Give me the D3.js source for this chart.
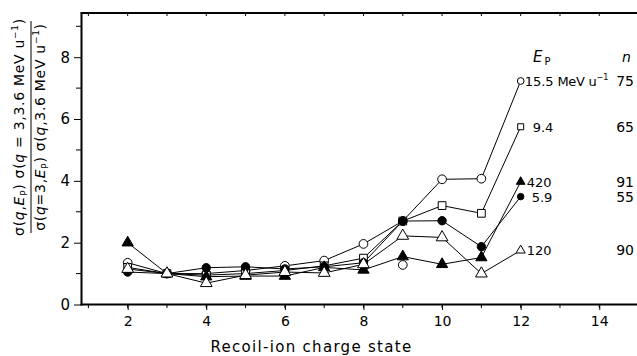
<!DOCTYPE html>
<html lang="en">
<head>
	<meta charset="UTF-8">
	<title>Recoil-ion charge state</title>
	<style>
		body { margin: 0; background: #fff; }
		svg text { font-family: "DejaVu Sans", sans-serif; fill: #000; }
	</style>
</head>
<body>
	<script src="https://cdn.jsdelivr.net/npm/d3@7/dist/d3.min.js"></script>

	<script type="text/javascript">

		// 数据: 反冲离子电荷态 q
		var charge = [2, 3, 4, 5, 6, 7, 8, 9, 10, 11, 12];

		var e155 = [1.35, 1.0, 1.0, 1.1, 1.25, 1.42, 1.96, 2.7, 4.05, 4.07, 7.23];	// 15.5 MeV/u
		var e94 = [1.2, 1.0, 0.95, 1.0, 1.1, 1.25, 1.5, 2.7, 3.2, 2.95, 5.75];		// 9.4
		var e420 = [2.0, 1.0, 0.9, 0.92, 0.92, 1.2, 1.12, 1.55, 1.3, 1.52, 3.97];	// 420
		var e59 = [1.05, 1.0, 1.19, 1.22, 1.15, 1.22, 1.35, 2.7, 2.71, 1.87, 3.49];	// 5.9
		var e120 = [1.15, 1.0, 0.69, 0.95, 1.05, 1.02, 1.3, 2.22, 2.17, 1.0, 1.75];	// 120

		// 单独的一个空心圆点 (q = 9)
		var extraQ = [9];
		var extraVal = [1.28];

		var labels = ["15.5", "9.4", "420", "5.9", "120"];
		var nValues = ["75", "65", "91", "55", "90"];

		var xTicks = [2, 4, 6, 8, 10, 12, 14];
		var yTicks = [0, 2, 4, 6, 8];

		var width = 637;
		var height = 356;

		var svg = d3.select("body")
					.append("svg")
					.attr("width", width)
					.attr("height", height);

		// 比例尺
		var x = d3.scaleLinear().domain([0.825, 14.96]).range([81.5, 637]);
		var y = d3.scaleLinear().domain([0, 9.43]).range([304.5, 13]);

		// 系列: 数据 + 符号样式
		var series = [
			{ vals: e155, sym: d3.symbolCircle, fill: "#fff", size: 60, label: labels[0], n: nValues[0], dx: 4 },
			{ vals: e94, sym: d3.symbolSquare, fill: "#fff", size: 60, label: labels[1], n: nValues[1], dx: 12 },
			{ vals: e420, sym: d3.symbolTriangle, fill: "#000", size: 55, label: labels[2], n: nValues[2], dx: 6 },
			{ vals: e59, sym: d3.symbolCircle, fill: "#000", size: 55, label: labels[3], n: nValues[3], dx: 11 },
			{ vals: e120, sym: d3.symbolTriangle, fill: "#fff", size: 60, label: labels[4], n: nValues[4], dx: 6 }
		];

		// 坐标轴线 (左, 下, 上)
		svg.append("line").attr("x1", 81.5).attr("x2", 81.5).attr("y1", 13).attr("y2", 305.5)
			.attr("stroke", "#000").attr("stroke-width", 2);
		svg.append("line").attr("x1", 80.5).attr("x2", 637).attr("y1", 304.5).attr("y2", 304.5)
			.attr("stroke", "#000").attr("stroke-width", 2);
		svg.append("line").attr("x1", 80.5).attr("x2", 637).attr("y1", 13).attr("y2", 13)
			.attr("stroke", "#000").attr("stroke-width", 2);

		// x 轴刻度
		var xAxis = d3.axisBottom(x).tickValues(xTicks).tickSize(5).tickPadding(6);
		var gx = svg.append("g").attr("transform", "translate(0,305)").call(xAxis);
		gx.select(".domain").remove();
		gx.selectAll("text").attr("font-size", "14px");

		var minorX = d3.range(1, 15);
		svg.append("g").selectAll("line")
			.data(minorX)
			.enter()
			.append("line")
			.attr("x1", function(d) { return x(d); })
			.attr("x2", function(d) { return x(d); })
			.attr("y1", 305)
			.attr("y2", 308)
			.attr("stroke", "#000");
		// 上边框的刻度
		svg.append("g").selectAll("line")
			.data(minorX)
			.enter()
			.append("line")
			.attr("x1", function(d) { return x(d); })
			.attr("x2", function(d) { return x(d); })
			.attr("y1", 13)
			.attr("y2", 16)
			.attr("stroke", "#000");

		// y 轴刻度
		var yAxis = d3.axisLeft(y).tickValues(yTicks).tickSize(7).tickPadding(4);
		var gy = svg.append("g").attr("transform", "translate(81,0)").call(yAxis);
		gy.select(".domain").remove();
		gy.selectAll("text").attr("font-size", "15px");

		svg.append("g").selectAll("line")
			.data([1, 3, 5, 7, 9])
			.enter()
			.append("line")
			.attr("x1", 76)
			.attr("x2", 81)
			.attr("y1", function(d) { return y(d); })
			.attr("y2", function(d) { return y(d); })
			.attr("stroke", "#000");

		// 折线
		var line = d3.line()
					.x(function(d, i) { return x(charge[i]); })
					.y(function(d) { return y(d); });

		svg.append("g").selectAll("path")
			.data(series)
			.enter()
			.append("path")
			.attr("d", function(s) { return line(s.vals); })
			.attr("fill", "none")
			.attr("stroke", "#000")
			.attr("stroke-width", 1);

		// 数据点符号
		series.forEach(function(s) {
			svg.append("g").selectAll("path")
				.data(s.vals)
				.enter()
				.append("path")
				.attr("transform", function(d, i) {
					return "translate(" + x(charge[i]) + "," + y(d) + ")";
				})
				.attr("d", function(d, i) {
					var sz = i == s.vals.length - 1 ? s.size * 0.6 : s.size;
					return d3.symbol().type(s.sym).size(sz)();
				})
				.attr("fill", s.fill)
				.attr("stroke", "#000")
				.attr("stroke-width", 1);
		});

		svg.append("g").selectAll("path")
			.data(extraVal)
			.enter()
			.append("path")
			.attr("transform", function(d, i) {
				return "translate(" + x(extraQ[i]) + "," + y(d) + ")";
			})
			.attr("d", d3.symbol().type(d3.symbolCircle).size(60)())
			.attr("fill", "#fff")
			.attr("stroke", "#000");

		// 右侧标注: E_p 和 n
		var last = charge.length - 1;
		series.forEach(function(s) {
			var t = svg.append("text")
						.attr("x", x(charge[last]) + s.dx)
						.attr("y", y(s.vals[last]) + 5)
						.attr("font-size", "13px")
						.text(s.label);
			if (s.label == labels[0]) {
				t.append("tspan").attr("letter-spacing", "-0.3px").text(" MeV u");
				t.append("tspan").attr("font-size", "8px").attr("dy", -6).text("−1");
			}
			svg.append("text")
				.attr("x", 634)
				.attr("y", y(s.vals[last]) + 5)
				.attr("font-size", "14px")
				.attr("text-anchor", "end")
				.text(s.n);
		});

		var ep = svg.append("text").attr("x", 533).attr("y", 62).attr("font-size", "15px");
		ep.append("tspan").attr("font-style", "italic").text("E");
		ep.append("tspan").attr("font-size", "10px").attr("dx", 2).attr("dy", 3).text("P");

		svg.append("text").attr("x", 622).attr("y", 62).attr("font-size", "14px")
			.attr("font-style", "italic").text("n");

		// x 轴标题
		svg.append("text")
			.attr("x", 311.5)
			.attr("y", 352)
			.attr("text-anchor", "middle")
			.attr("font-size", "15px")
			.attr("letter-spacing", "1.3px")
			.text("Recoil-ion charge state");

		// y 轴标题 (分式)
		var gl = svg.append("g").attr("transform", "translate(0,127) rotate(-90)");

		function addPart(txt, str, italic) {
			txt.append("tspan").attr("font-style", italic ? "italic" : "normal").text(str);
		}

		var num = gl.append("text").attr("x", 0).attr("y", 24).attr("text-anchor", "middle")
					.attr("font-size", "14px").attr("letter-spacing", "0.7px");
		addPart(num, "σ(");
		addPart(num, "q", true);
		addPart(num, ",");
		addPart(num, "E", true);
		num.append("tspan").attr("font-size", "9px").attr("dy", 3).text("P");
		num.append("tspan").attr("dy", -3).text(")  σ(");
		addPart(num, "q", true);
		addPart(num, " = 3,3.6 MeV u");
		num.append("tspan").attr("font-size", "9px").attr("dy", -6).text("−1");
		num.append("tspan").attr("dy", 6).text(")");

		gl.append("line").attr("x1", -106).attr("x2", 106).attr("y1", 31).attr("y2", 31)
			.attr("stroke", "#000").attr("stroke-width", 1);

		var den = gl.append("text").attr("x", 0).attr("y", 45).attr("text-anchor", "middle")
					.attr("font-size", "14px").attr("letter-spacing", "0.7px");
		addPart(den, "σ(");
		addPart(den, "q", true);
		addPart(den, "=3,");
		addPart(den, "E", true);
		den.append("tspan").attr("font-size", "9px").attr("dy", 3).text("P");
		den.append("tspan").attr("dy", -3).text(") σ(");
		addPart(den, "q", true);
		addPart(den, ",3.6 MeV u");
		den.append("tspan").attr("font-size", "9px").attr("dy", -6).text("−1");
		den.append("tspan").attr("dy", 6).text(")");

	</script>
</body>
</html>
